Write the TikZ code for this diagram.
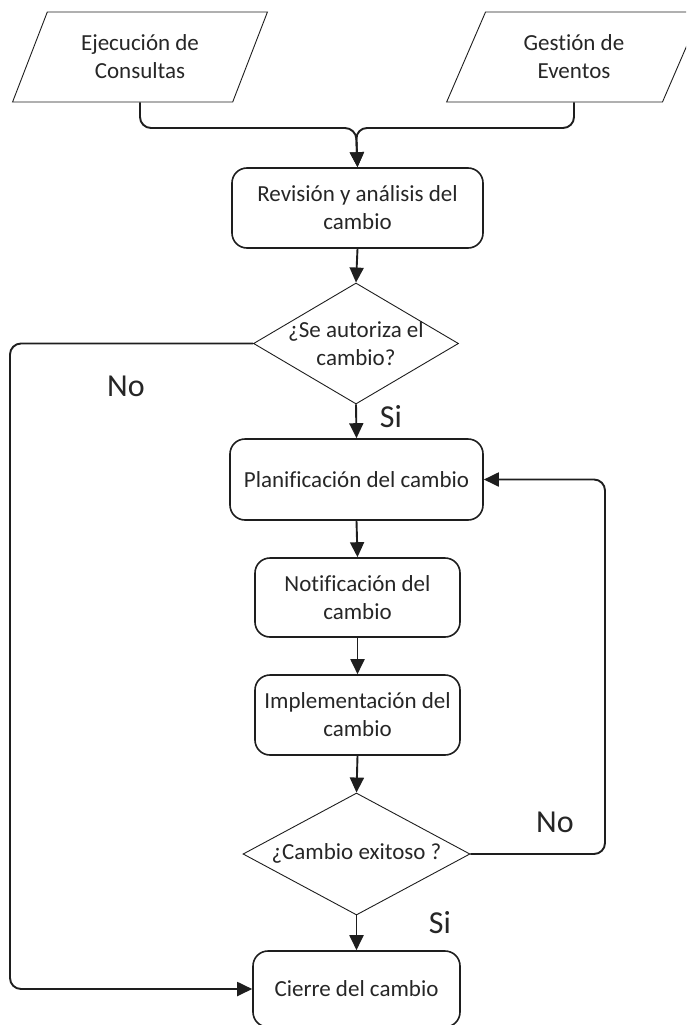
\documentclass[tikz,border=0pt]{standalone}
\usepackage{fontspec}
\setmainfont{Carlito}[Ligatures=NoCommon]
\usetikzlibrary{shapes.geometric,arrows.meta,calc}
\definecolor{ink}{HTML}{1E1E1E}
\definecolor{txt}{HTML}{262626}
\begin{document}
\begin{tikzpicture}[x=1pt,y=-1pt,
  every node/.style={text=txt,font=\fontsize{23}{28}\selectfont,align=center},
  iobox/.style={draw=ink,line width=0.9pt,trapezium,trapezium left angle=63.4,
    trapezium right angle=116.6,trapezium stretches=true,
    minimum width=255pt,minimum height=90pt,inner sep=0pt},
  procbox/.style={draw=ink,line width=1.6pt,rounded corners=15pt,inner sep=0pt},
  decision/.style={draw=ink,line width=0.9pt,diamond,inner sep=0pt},
  conn/.style={draw=ink,line width=1.9pt,rounded corners=11pt,
    -{Triangle[length=15pt,width=14pt]}},
  flowlabel/.style={font=\fontsize{32}{38}\selectfont}]
\useasboundingbox (0,0) rectangle (686,1025);
\clip (0,0) rectangle (686,1025);

% inputs
\node[iobox] (p1) at (140,57) {Ejecución de\\Consultas};
\node[iobox] (p2) at (574,57) {Gestión de\\Eventos};

% process steps
\node[procbox,minimum width=251pt,minimum height=80pt] (rev) at (357.5,208) {Revisión y análisis del\\cambio};
\node[decision,minimum width=205pt,minimum height=121pt] (d1) at (356,343.5) {};
\node at (356,344) {¿Se autoriza el\\cambio?};
\node[procbox,minimum width=253pt,minimum height=81pt] (plan) at (356.5,479.5) {Planificación del cambio};
\node[procbox,minimum width=205pt,minimum height=79pt] (notif) at (357.5,597.5) {Notificación del\\cambio};
\node[procbox,minimum width=205pt,minimum height=80pt] (impl) at (357.5,715) {Implementación del\\cambio};
\node[decision,minimum width=227pt,minimum height=122pt] (d2) at (356.5,854) {};
\node at (356.5,853) {¿Cambio exitoso ?};
\node[procbox,minimum width=207pt,minimum height=76pt] (cierre) at (356.5,989) {Cierre del cambio};

% routing points
\coordinate (jn) at (356,128);
\coordinate (lx) at (10,0);
\coordinate (rx) at (605,0);

% connectors
\draw[conn] (p1.center |- p1.bottom left corner) |- (jn) -- (rev.north);
\draw[conn] (p2.center |- p2.bottom left corner) |- (jn) -- (rev.north);
\draw[conn] (rev.south) -- (d1.north);
\draw[conn] (d1.south) -- (plan.north);
\draw[conn] (plan.south) -- (notif.north);
\draw[conn] (notif.south) -- (impl.north);
\draw[conn] (impl.south) -- (d2.north);
\draw[conn] (d2.south) -- (cierre.north);
\draw[conn] (d1.west) -- (d1.west -| lx) -- (lx |- cierre.west) -- (cierre.west);
\draw[conn] (d2.east) -- (d2.east -| rx) -- (rx |- plan.east) -- (plan.east);

% branch labels
\node[flowlabel] (no1) at (126,386) {No};
\node[flowlabel] (si1) at (391,417) {Si};
\node[flowlabel] (no2) at (555,822) {No};
\node[flowlabel] (si2) at (440,923) {Si};
\end{tikzpicture}
\end{document}
